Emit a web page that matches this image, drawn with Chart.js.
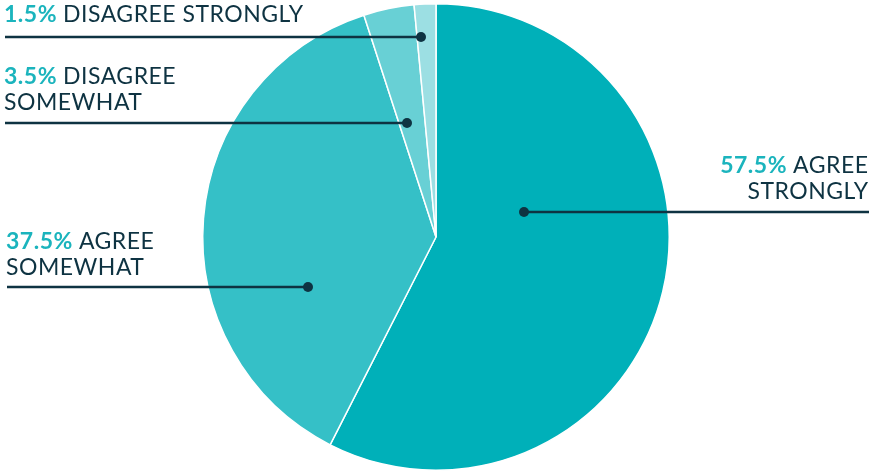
<!DOCTYPE html>
<html>
<head>
<meta charset="utf-8">
<script src="https://cdn.jsdelivr.net/npm/chart.js@4/dist/chart.umd.min.js"></script>
<style>
  html, body { margin: 0; padding: 0; background: #fff; }
  #wrap { width: 869px; height: 471px; position: relative; }
</style>
</head>
<body>
<div id="wrap"><canvas id="pie"></canvas></div>
<script>
const percents = ['57.5%', '37.5%', '3.5%', '1.5%'];
const labelText = [['AGREE', 'STRONGLY'], ['AGREE', 'SOMEWHAT'], ['DISAGREE', 'SOMEWHAT'], ['DISAGREE STRONGLY']];
const values = [57.5, 37.5, 3.5, 1.5];
const colors = ['#00B0B9', '#35C0C7', '#68D0D5', '#9CDFE3'];

// callout layout: text side, text anchor x, first baseline, leader line y, dot x
const callouts = [
    { side: 'right', x: 868, y: 173, lineY: 212, dotX: 524, lineEnd: 869 },
    { side: 'left', x: 6, y: 249, lineY: 287, dotX: 308, lineEnd: 7 },
    { side: 'left', x: 4, y: 84, lineY: 123, dotX: 407, lineEnd: 5 },
    { side: 'left', x: 4, y: 22, lineY: 37, dotX: 421, lineEnd: 5 },
];

const navy = '#0E3342';
const teal = '#1BB4BD';
const font = 'Lato, "Open Sans", sans-serif';
const size = 23;
const spacing = 0.5;

const calloutPlugin = {
    id: 'callouts',
    afterDraw(chart) {
        const ctx = chart.ctx;
        ctx.save();
        ctx.letterSpacing = spacing + 'px';
        callouts.forEach((c, i) => {
            // leader line
            ctx.strokeStyle = navy;
            ctx.lineWidth = 2.5;
            ctx.beginPath();
            ctx.moveTo(c.lineEnd, c.lineY);
            ctx.lineTo(c.dotX, c.lineY);
            ctx.stroke();
            ctx.fillStyle = navy;
            ctx.beginPath();
            ctx.arc(c.dotX, c.lineY, 5, 0, Math.PI * 2);
            ctx.fill();

            // text
            const lines = labelText[i];
            ctx.textBaseline = 'alphabetic';
            lines.forEach((txt, j) => {
                const by = c.y + j * 26;
                if (j === 0) {
                    ctx.font = `700 ${size}px ` + font;
                    const pw = ctx.measureText(percents[i] + ' ').width;
                    ctx.font = `400 ${size}px ` + font;
                    const tw = ctx.measureText(txt).width - spacing;
                    let x0 = c.side === 'left' ? c.x : c.x - pw - tw;
                    ctx.textAlign = 'left';
                    ctx.font = `700 ${size}px ` + font;
                    ctx.fillStyle = teal;
                    ctx.fillText(percents[i] + ' ', x0, by);
                    ctx.font = `400 ${size}px ` + font;
                    ctx.fillStyle = navy;
                    ctx.fillText(txt, x0 + pw, by);
                } else {
                    ctx.font = `400 ${size}px ` + font;
                    ctx.fillStyle = navy;
                    ctx.textAlign = 'left';
                    const tw = ctx.measureText(txt).width - spacing;
                    ctx.fillText(txt, c.side === 'left' ? c.x : c.x - tw, by);
                }
            });
        });
        ctx.restore();
    }
};

new Chart(document.getElementById('pie'), {
    type: 'pie',
    data: {
        labels: percents,
        datasets: [{
            data: values,
            backgroundColor: colors,
            borderColor: '#ffffff',
            borderWidth: 1.5,
        }],
    },
    options: {
        responsive: true,
        maintainAspectRatio: false,
        animation: false,
        layout: { padding: { top: 3, left: 3, right: 0, bottom: 0 } },
        plugins: {
            legend: { display: false },
            tooltip: { enabled: false },
        },
    },
    plugins: [calloutPlugin],
});
</script>
</body>
</html>
